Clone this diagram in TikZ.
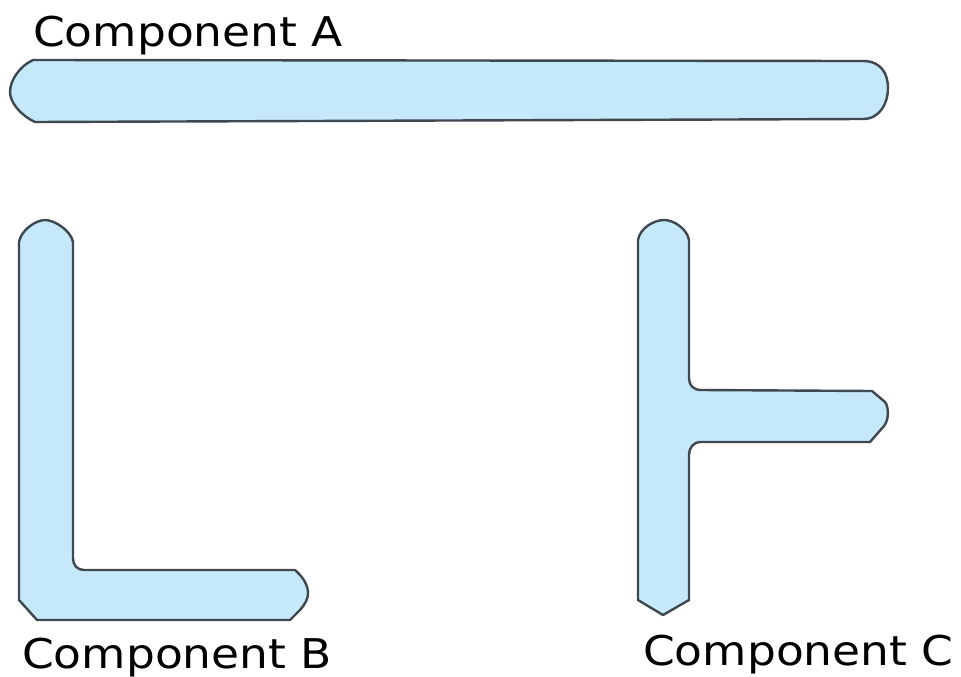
\documentclass[tikz,border=0pt]{standalone}
\usepackage{fontspec}
\setmainfont{DejaVu Sans}
\newfontfamily\labelfont[FakeStretch=1.11]{DejaVu Sans}
\definecolor{partfill}{RGB}{197,232,250}
\definecolor{partline}{RGB}{62,72,78}
\begin{document}
\begin{tikzpicture}[x=1pt,y=-1pt,
  part/.style={fill=partfill,draw=partline,line width=2.4pt,line join=round},
  label/.style={anchor=base west,inner sep=0pt,font=\labelfont\fontsize{41}{41}\selectfont,text=black}]
\useasboundingbox (0,0) rectangle (961,677);
% Component A
\draw[part] (33,60) -- (863,61) .. controls (882,61) and (888,75) .. (888,88)
  .. controls (888,103) and (880,119) .. (863,119) -- (35,122)
  .. controls (20,115) and (10,102) .. (10,92)
  .. controls (10,80) and (20,66) .. (33,60) -- cycle;
% Component B
\draw[part] (45,220) .. controls (36,220) and (21,230) .. (19,242) -- (19,600) -- (37,620) -- (290,620)
  -- (300,610) .. controls (306,603) and (308,598) .. (308,593)
  .. controls (308,585) and (303,577) .. (295,570) -- (84,570)
  .. controls (77,570) and (73,565) .. (73,558) -- (73,242)
  .. controls (71,231) and (55,220) .. (45,220) -- cycle;
% Component C
\draw[part] (664,220) .. controls (654,220) and (640,228) .. (638,240) -- (638,600) -- (663,615) -- (689,600)
  -- (689,455) .. controls (689,448) and (693,442) .. (701,442) -- (870,442)
  -- (884,426) .. controls (889,420) and (889,407) .. (885,402) -- (872,391) -- (701,390)
  .. controls (693,390) and (689,385) .. (689,378) -- (689,240)
  .. controls (687,229) and (674,220) .. (664,220) -- cycle;
\node[label] (la) at (33,47) {Component A};
\node[label] (lb) at (22,668) {Component B};
\node[label] (lc) at (643,665) {Component C};
\end{tikzpicture}
\end{document}
